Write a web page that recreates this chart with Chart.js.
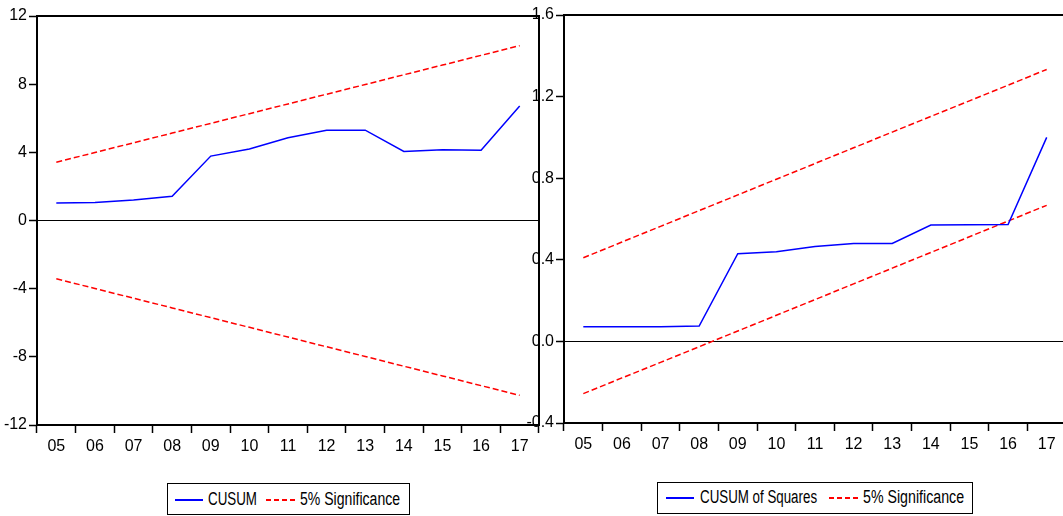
<!DOCTYPE html>
<html>
<head>
<meta charset="utf-8">
<script src="https://cdn.jsdelivr.net/npm/chart.js@4/dist/chart.umd.min.js"></script>
<style>
  html, body { margin: 0; padding: 0; background: #fff; width: 1063px; height: 516px; overflow: hidden; }
  body { position: relative; font-family: 'Liberation Sans', Arial, sans-serif; }
  canvas { position: absolute; top: 0; }
  #left { left: 0; }
  #right { left: 515px; }
  .box { position: absolute; border: 1.5px solid #000; box-sizing: border-box; }
  .ln { position: absolute; height: 2px; }
  .blue { background: #0000ff; }
  .red { background: repeating-linear-gradient(to right, #ff0000 0, #ff0000 5px, transparent 5px, transparent 8px); }
  .txt { position: absolute; font-size: 18px; line-height: 20px; color: #000; white-space: nowrap;
         transform-origin: left center; }
</style>
</head>
<body>
<canvas id="left" width="548" height="470"></canvas>
<canvas id="right" width="560" height="468"></canvas>

<div class="box" style="left:167px; top:483px; width:243px; height:32px;"></div>
<div class="ln blue" style="left:175px; top:499px; width:28px;"></div>
<div class="txt" data-w="49" style="left:208px; top:489px;">CUSUM</div>
<div class="ln red" style="left:266px; top:499px; width:29px;"></div>
<div class="txt" data-w="100" style="left:300px; top:489px;">5% Significance</div>

<div class="box" style="left:657px; top:482px; width:316px; height:32px;"></div>
<div class="ln blue" style="left:666px; top:497px; width:28px;"></div>
<div class="txt" data-w="117" style="left:700px; top:487px;">CUSUM of Squares</div>
<div class="ln red" style="left:829px; top:497px; width:29px;"></div>
<div class="txt" data-w="101" style="left:863px; top:487px;">5% Significance</div>

<script>
// years 2005-2017
const years = ['05', '06', '07', '08', '09', '10', '11', '12', '13', '14', '15', '16', '17'];

// CUSUM
const cusum = [1.02, 1.05, 1.2, 1.42, 3.78, 4.2, 4.85, 5.3, 5.3, 4.05, 4.15, 4.12, 6.72];
const cusumUpper = [3.42, 3.99, 4.56, 5.13, 5.70, 6.27, 6.84, 7.41, 7.98, 8.55, 9.12, 9.69, 10.26];
const cusumLower = [-3.42, -3.99, -4.56, -5.13, -5.70, -6.27, -6.84, -7.41, -7.98, -8.55, -9.12, -9.69, -10.26];
const cusumTicks = [-12, 12, 4];

// CUSUM of squares
const cusumSq = [0.072, 0.072, 0.072, 0.075, 0.43, 0.44, 0.465, 0.48, 0.48, 0.57, 0.572, 0.573, 1.0];
const sqUpper = [0.41, 0.487, 0.564, 0.641, 0.718, 0.795, 0.872, 0.949, 1.026, 1.103, 1.179, 1.256, 1.333];
const sqLower = [-0.256, -0.179, -0.103, -0.026, 0.051, 0.128, 0.205, 0.282, 0.359, 0.436, 0.513, 0.59, 0.667];
const sqTicks = [-0.4, 1.6, 0.4];

const FONT = "'Liberation Sans', Arial, sans-serif";

// squeeze legend text to the narrow look of the original
document.querySelectorAll('.txt').forEach(t => {
    t.style.transform = 'scaleX(' + (t.dataset.w / t.offsetWidth) + ')';
});

const frame = {
    id: 'frame',
    afterDraw(chart) {
        const a = chart.chartArea, c = chart.ctx;
        c.save();
        c.strokeStyle = '#000';
        c.lineWidth = 2;
        c.strokeRect(a.left, a.top, a.right - a.left, a.bottom - a.top);
        c.restore();
    }
};

function makeChart(id, line, upper, lower, ticks, yWidth, pad, fmt) {
    const red = {borderColor: '#ff0000', borderWidth: 1.5, borderDash: [6, 3], pointRadius: 0, tension: 0, fill: false};
    return new Chart(document.getElementById(id), {
        type: 'line',
        data: {
            labels: years,
            datasets: [
                {data: line, borderColor: '#0000ff', borderWidth: 1.5, pointRadius: 0, tension: 0, fill: false},
                Object.assign({data: upper}, red),
                Object.assign({data: lower}, red)
            ]
        },
        options: {
            responsive: false,
            animation: false,
            devicePixelRatio: 1,
            layout: {padding: pad},
            plugins: {legend: {display: false}, tooltip: {enabled: false}},
            scales: {
                x: {
                    offset: true,
                    border: {display: false},
                    grid: {offset: true, drawOnChartArea: false, tickLength: 8, tickColor: '#000', tickWidth: 1.5},
                    ticks: {color: '#000', font: {family: FONT, size: 16}, padding: 4, maxRotation: 0, autoSkip: false},
                    afterFit: s => { s.height = 40; }
                },
                y: {
                    min: ticks[0], max: ticks[1],
                    border: {display: false},
                    grid: {
                        color: c => Math.abs(c.tick.value) < 1e-9 ? '#000' : 'rgba(0,0,0,0)',
                        lineWidth: 1, tickColor: '#000', tickWidth: 1.5, tickLength: 8
                    },
                    ticks: {stepSize: ticks[2], color: '#000', font: {family: FONT, size: 16}, padding: 2,
                            callback: v => fmt(v)},
                    afterFit: s => { s.width = yWidth; }
                }
            }
        },
        plugins: [frame]
    });
}

makeChart('left', cusum, cusumUpper, cusumLower, cusumTicks, 37, {top: 16, right: 9, bottom: 5, left: 0},
    v => String(Math.round(v)));
makeChart('right', cusumSq, sqUpper, sqLower, sqTicks, 49, {top: 15, right: 9, bottom: 5, left: 0},
    v => (Math.abs(v) < 1e-9 ? 0 : v).toFixed(1));
</script>
</body>
</html>
